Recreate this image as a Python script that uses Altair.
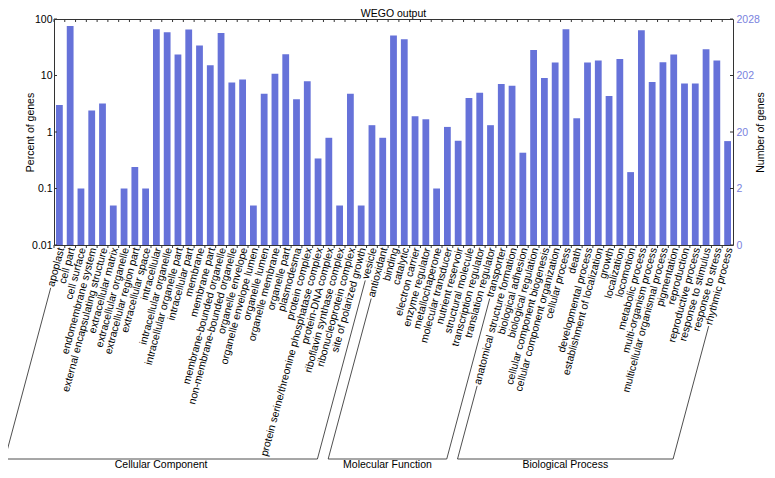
import math
import altair as alt
import pandas as pd

# ---------------- data ----------------
cc_terms = ["apoplast", "cell part", "cell surface", "endomembrane system",
            "external encapsulating structure", "extracellular matrix",
            "extracellular organelle", "extracellular region part", "extracellular space",
            "intracellular", "intracellular organelle", "intracellular organelle part",
            "intracellular part", "membrane", "membrane part", "membrane-bounded organelle",
            "non-membrane-bounded organelle", "organelle envelope", "organelle envelope lumen",
            "organelle lumen", "organelle membrane", "organelle part", "plasmodesma",
            "protein complex", "protein serine/threonine phosphatase complex",
            "protein-DNA complex", "riboflavin synthase complex", "ribonucleoprotein complex",
            "site of polarized growth", "vesicle"]
cc_pct = [3.0, 75, 0.1, 2.4, 3.2, 0.05, 0.1, 0.24, 0.1, 66, 58, 23.5, 65, 34, 15.2, 56.5,
          7.5, 8.5, 0.05, 4.75, 10.7, 23.8, 3.8, 7.9, 0.34, 0.79, 0.05, 4.75, 0.05, 1.32]

mf_terms = ["antioxidant", "binding", "catalytic", "electron carrier", "enzyme regulator",
            "metallochaperone", "molecular transducer", "nutrient reservoir",
            "structural molecule", "transcription regulator", "translation regulator",
            "transporter"]
mf_pct = [0.79, 51, 44, 1.9, 1.68, 0.1, 1.23, 0.7, 4.0, 4.95, 1.32, 7.05]

bp_terms = ["anatomical structure formation", "biological adhesion", "biological regulation",
            "cellular component biogenesis", "cellular component organization",
            "cellular process", "death", "developmental process",
            "establishment of localization", "growth", "localization", "locomotion",
            "metabolic process", "multi-organism process", "multicellular organismal process",
            "pigmentation", "reproduction", "reproductive process", "response to stimulus",
            "response to stress", "rhythmic process"]
bp_pct = [6.6, 0.43, 28.4, 9.0, 17.0, 65.8, 1.75, 17.0, 18.5, 4.33, 19.5, 0.195, 63,
          7.65, 17.2, 23.5, 7.25, 7.25, 29.2, 18.5, 0.69]

groups = ["Cellular Component", "Molecular Function", "Biological Process"]
total_genes = 2028
ytick_vals = [0.01, 0.1, 1, 10, 100]
chart_title = "WEGO output"

# ---------------- layout / style ----------------
W, H = 679, 226
PAD = {"left": 46, "top": 11, "right": 34, "bottom": 225}
FS = 10.5
FONT = "Liberation Sans"
BAR = "#6672d9"
FRAME = "#333333"
LPAD, LDX, ANG, GAP = 3, 2, 75, 1.5
YB, YT = 440, 446

group_terms = [cc_terms, mf_terms, bp_terms]
group_pct = [cc_pct, mf_pct, bp_pct]
terms, pcts, grp = [], [], []
for g, ts, ps in zip(groups, group_terms, group_pct):
    terms += ts
    pcts += ps
    grp += [g] * len(ts)
df = pd.DataFrame({"term": terms, "pct": pcts, "group": grp})
n = len(terms)
step = W / n

xscale = alt.Scale(domain=terms, paddingInner=0.37, paddingOuter=0.185)
yscale = alt.Scale(type="log", domain=[0.01, 100], nice=False)

bars = alt.Chart(df).mark_bar(color=BAR).encode(
    x=alt.X("term:N", scale=xscale, axis=None),
    y=alt.Y("pct:Q", scale=yscale, stack=None,
            axis=alt.Axis(title="Percent of genes", orient="left", values=ytick_vals,
                          format="~g", ticks=False, tickSize=0, domain=False, grid=False,
                          labelPadding=2, titleX=-24, titleY=H / 2, titleAngle=270,
                          titleBaseline="middle")),
)

right = alt.Chart(df).mark_bar(opacity=0).encode(
    x=alt.X("term:N", scale=xscale, axis=None),
    y=alt.Y("pct:Q", scale=yscale, stack=None,
            axis=alt.Axis(title="Number of genes", orient="right", values=ytick_vals,
                          labelExpr=f"floor({total_genes} * datum.value / 100)",
                          labelColor="#7a82de", ticks=False, tickSize=0, domain=False,
                          grid=False, labelPadding=3, titleX=27, titleY=H / 2,
                          titleAngle=270, titleBaseline="middle")),
)

# category labels (rotated text on the shared band scale)
term_labels = alt.Chart(df).mark_text(
    font=FONT, fontSize=FS, color="black", angle=360 - ANG, align="right",
    baseline="middle", xOffset=LDX).encode(
    x=alt.X("term:N", scale=xscale, axis=None),
    y=alt.value(H + LPAD),
    text="term:N")

tick_df = pd.DataFrame({"term": terms})
top_ticks = alt.Chart(tick_df).mark_rule(color=FRAME, xOffset=-step / 2).encode(
    x=alt.X("term:N", scale=xscale, axis=None),
    y=alt.value(0), y2=alt.value(3))
bottom_ticks = alt.Chart(tick_df).mark_rule(color=FRAME, xOffset=-step / 2).encode(
    x=alt.X("term:N", scale=xscale, axis=None),
    y=alt.value(H), y2=alt.value(H + 3))

side_df = pd.DataFrame({"v": ytick_vals})
left_ticks = alt.Chart(side_df).mark_rule(color=FRAME).encode(
    y=alt.Y("v:Q", scale=yscale, axis=None), x=alt.value(0), x2=alt.value(3))
right_ticks = alt.Chart(side_df).mark_rule(color=FRAME).encode(
    y=alt.Y("v:Q", scale=yscale, axis=None), x=alt.value(W - 3), x2=alt.value(W))

inner = alt.layer(bars, right, term_labels, top_ticks, bottom_ticks, left_ticks,
                  right_ticks).resolve_axis(y="independent")

# ---------------- group brackets (derived from label geometry) ----------------
AW = {"a": 556, "b": 556, "c": 500, "d": 556, "e": 556, "f": 278, "g": 556, "h": 556,
      "i": 222, "j": 222, "k": 500, "l": 222, "m": 833, "n": 556, "o": 556, "p": 556,
      "q": 556, "r": 333, "s": 500, "t": 278, "u": 556, "v": 500, "w": 722, "x": 500,
      "y": 500, "z": 500, " ": 278, "-": 333, "/": 278, "A": 667, "D": 722, "N": 722}


def text_w(s):
    return sum(AW.get(c, 556) for c in s) / 1000 * FS


ux = -math.cos(math.radians(ANG))
uy = math.sin(math.radians(ANG))


def label_start(i):
    L = text_w(terms[i]) + GAP
    return ((i + 0.5) * step + LDX + ux * L, H + LPAD + uy * L)


def to_bottom(pt):
    t = (YB - pt[1]) / uy
    return (pt[0] + ux * t, YB)


rows, trows = [], []
idx = 0
for g, ts in zip(groups, group_terms):
    a, b = idx, idx + len(ts) - 1
    ta, tb = label_start(a), label_start(b)
    ba, bb = to_bottom(ta), to_bottom(tb)
    rows.append({"x1": ta[0], "y1": ta[1], "x2": ba[0], "y2": ba[1]})
    rows.append({"x1": ba[0], "y1": ba[1], "x2": bb[0], "y2": bb[1]})
    rows.append({"x1": bb[0], "y1": bb[1], "x2": tb[0], "y2": tb[1]})
    trows.append({"label": g, "x": (ba[0] + bb[0]) / 2, "y": YT})
    idx += len(ts)

brackets = alt.Chart(pd.DataFrame(rows)).mark_rule(color="#222222", strokeWidth=0.8).encode(
    x=alt.X("x1:Q", scale=None, axis=None), x2="x2:Q",
    y=alt.Y("y1:Q", scale=None, axis=None), y2="y2:Q")

group_text = alt.Chart(pd.DataFrame(trows)).mark_text(
    font=FONT, fontSize=FS, color="black", align="center", baseline="middle").encode(
    x=alt.X("x:Q", scale=None, axis=None), y=alt.Y("y:Q", scale=None, axis=None),
    text="label:N")

title_text = alt.Chart(pd.DataFrame({"label": [chart_title], "x": [W / 2], "y": [-2]})
                       ).mark_text(font=FONT, fontSize=FS, color="black", align="center",
                                   baseline="alphabetic").encode(
    x=alt.X("x:Q", scale=None, axis=None), y=alt.Y("y:Q", scale=None, axis=None),
    text="label:N")

chart = alt.layer(inner, brackets, group_text, title_text).resolve_scale(
    x="independent", y="independent"
).properties(
    width=W, height=H, padding=PAD, autosize=alt.AutoSizeParams(type="none")
).configure_view(
    stroke=FRAME, strokeWidth=1
).configure_axis(
    labelFont=FONT, titleFont=FONT, labelFontSize=FS, titleFontSize=FS,
    titleFontWeight="normal", labelColor="black", titleColor="black"
)

chart.save("out.html", embed_options={"renderer": "svg", "actions": False})
